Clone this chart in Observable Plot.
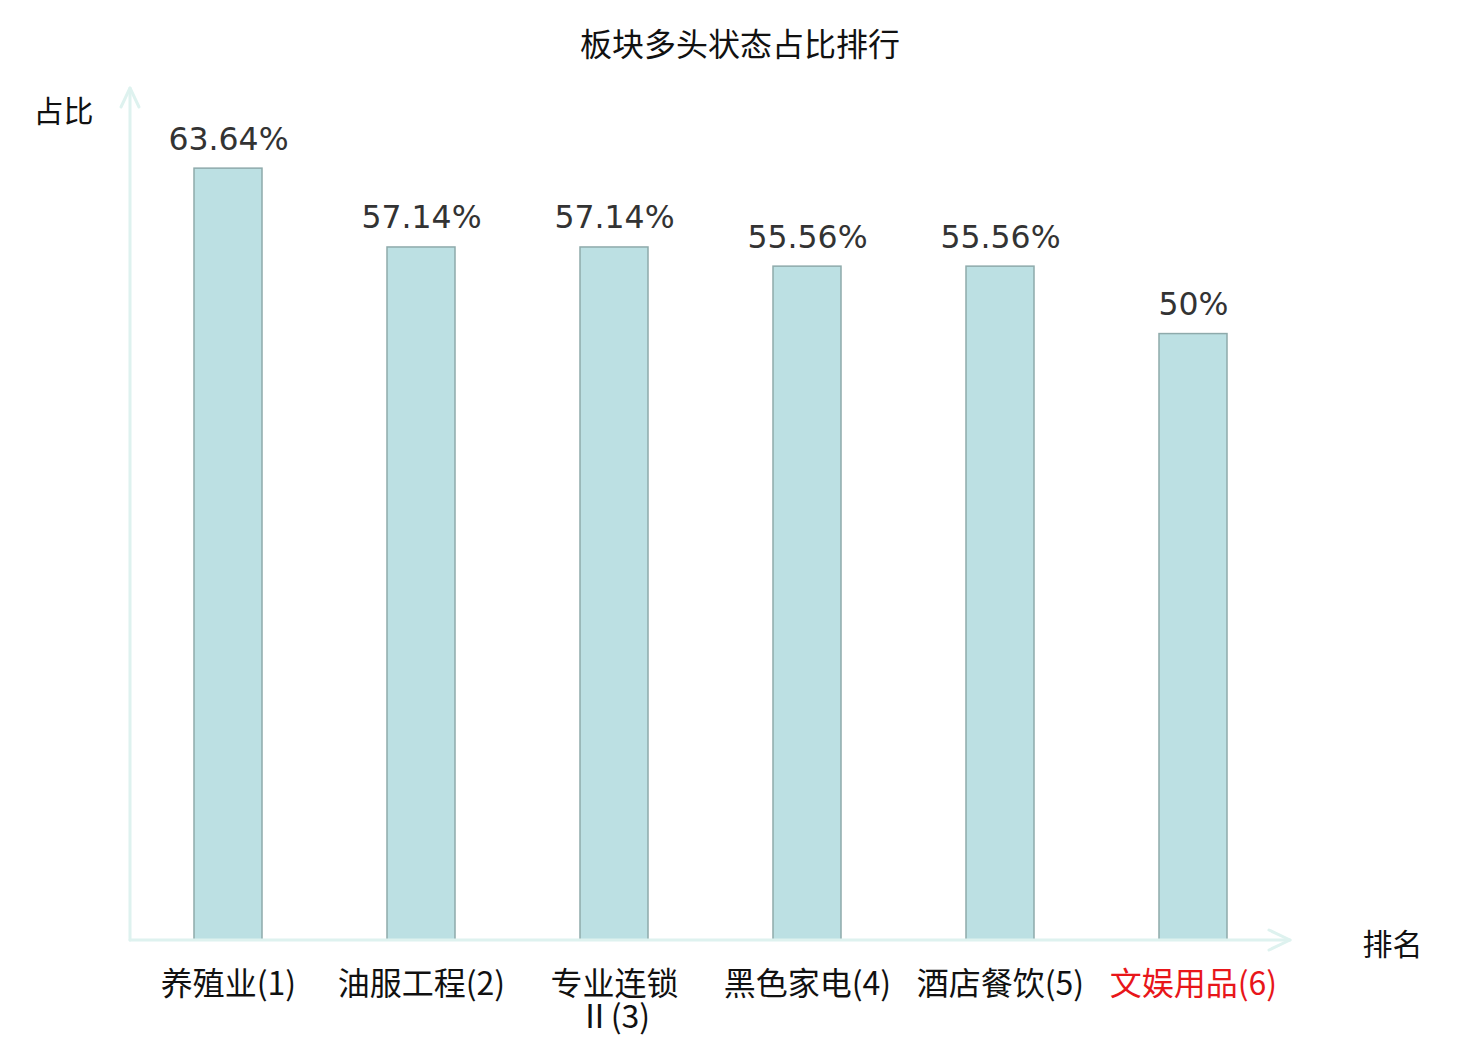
<!DOCTYPE html>
<html>
<head>
<meta charset="utf-8">
<script src="https://cdn.jsdelivr.net/npm/d3@7"></script>
<script src="https://cdn.jsdelivr.net/npm/@observablehq/plot@0.6"></script>
<style>
  html, body { margin: 0; padding: 0; background: #fff; }
  #wrap { width: 1480px; }
  #title { height: 84px; line-height: 84px; text-align: center; font-family: "Noto Sans CJK SC", sans-serif; font-size: 32px; color: #111; }
  svg { display: block; }
</style>
</head>
<body>
<div id="wrap">
  <div id="title">板块多头状态占比排行</div>
  <div id="chart"></div>
</div>
<script>
const categories = ["养殖业", "油服工程", "专业连锁Ⅱ", "黑色家电", "酒店餐饮", "文娱用品"];
const tickLabels = ["养殖业(1)", "油服工程(2)", "专业连锁\nⅡ(3)", "黑色家电(4)", "酒店餐饮(5)", "文娱用品(6)"];
const values = [63.64, 57.14, 57.14, 55.56, 55.56, 50];
const highlighted = ["文娱用品"];
const yLabel = "占比";
const xLabel = "排名";

const data = categories.map((c, i) => ({cat: c, value: values[i], tick: tickLabels[i]}));

const axisColor = "#def2ef";

function axesWithArrows(index, scales, values, dims) {
  const g = d3.create("svg:g");
  const x0 = dims.marginLeft;
  const x1 = dims.width - dims.marginRight;
  const yb = dims.height - dims.marginBottom;
  const yt = dims.marginTop - 3;
  const st = {stroke: axisColor, "stroke-width": 3, fill: "none", "stroke-linecap": "round", "stroke-linejoin": "round"};
  const add = (d) => { const p = g.append("path").attr("d", d); for (const k in st) p.attr(k, st[k]); };
  add(`M${x0},${yb}V${yt}`);
  add(`M${x0 - 9},${yt + 19}L${x0},${yt}L${x0 + 9},${yt + 19}`);
  add(`M${x0},${yb}H${x1}`);
  add(`M${x1 - 21},${yb - 10}L${x1},${yb}L${x1 - 21},${yb + 10}`);
  return g.node();
}

const plot = Plot.plot({
  width: 1480,
  height: 956,
  marginLeft: 130,
  marginRight: 190,
  marginTop: 7,
  marginBottom: 100,
  style: {fontFamily: "'DejaVu Sans', sans-serif", background: "#fff"},
  x: {domain: categories, paddingInner: 0.65, paddingOuter: 0.325, axis: null},
  y: {domain: [0, 70], axis: null},
  marks: [
    Plot.barY(data, {x: "cat", y: "value", fill: "#bce0e3", stroke: "#8eaaab", strokeWidth: 1.5}),
    axesWithArrows,
    Plot.text(data, {x: "cat", y: "value", text: d => `${d.value}%`, lineAnchor: "bottom", dy: -19,
      fontSize: 31.5, fill: "#333", fontFamily: "'DejaVu Sans', sans-serif"}),
    Plot.text(data, {x: "cat", text: "tick", frameAnchor: "bottom", lineAnchor: "top", dy: 31,
      lineHeight: 1.04, fontSize: 32, fontFamily: "'Noto Sans CJK SC', sans-serif",
      fill: d => highlighted.includes(d.cat) ? "#e8161a" : "#111"}),
    Plot.text([yLabel], {text: d => d, frameAnchor: "top-left", textAnchor: "middle", dx: -67, dy: 9, fontSize: 30,
      fontFamily: "'Noto Sans CJK SC', sans-serif", fill: "#111"}),
    Plot.text([xLabel], {text: d => d, frameAnchor: "bottom-right", textAnchor: "middle", dx: 102, dy: 14, fontSize: 30,
      fontFamily: "'Noto Sans CJK SC', sans-serif", fill: "#111"})
  ]
});
document.getElementById("chart").appendChild(plot);
</script>
</body>
</html>
